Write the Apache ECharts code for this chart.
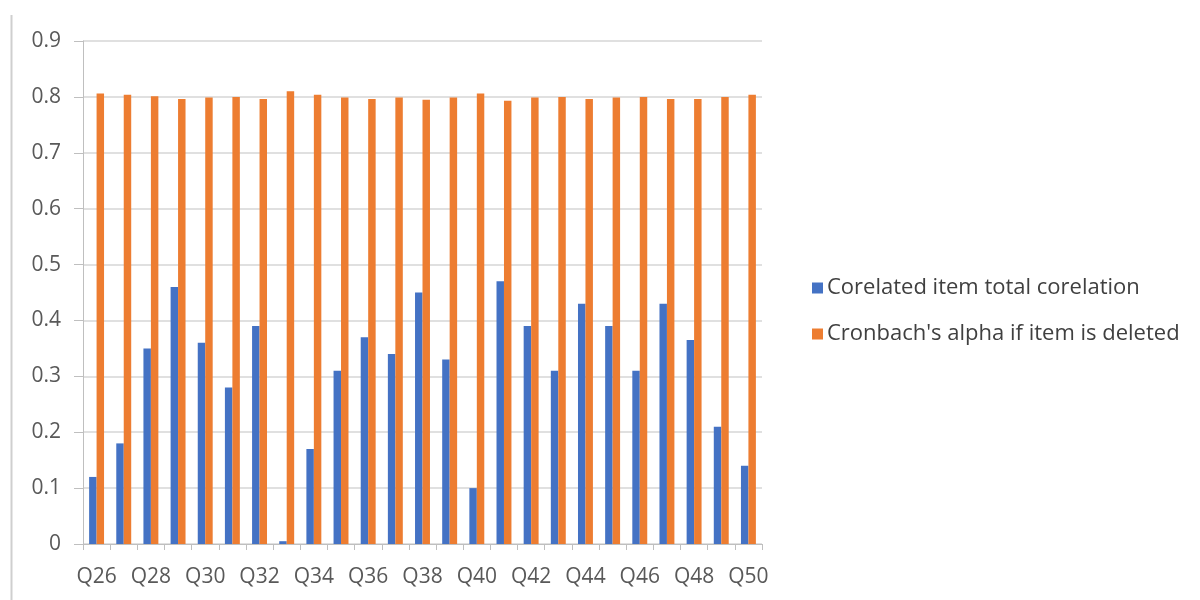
<!DOCTYPE html>
<html>
<head>
<meta charset="utf-8">
<script src="https://cdn.jsdelivr.net/npm/echarts@6/dist/echarts.min.js"></script>
<style>
  html, body { margin: 0; padding: 0; background: #fff; }
  #chart { width: 1200px; height: 600px; }
</style>
</head>
<body>
<div id="chart"></div>
<script>
// Item statistics for questions Q26–Q50
const categories = ['Q26','Q27','Q28','Q29','Q30','Q31','Q32','Q33','Q34','Q35','Q36','Q37','Q38',
                    'Q39','Q40','Q41','Q42','Q43','Q44','Q45','Q46','Q47','Q48','Q49','Q50'];
const itemTotalCorrelation = [0.12, 0.18, 0.35, 0.46, 0.36, 0.28, 0.39, 0.005, 0.17, 0.31, 0.37, 0.34, 0.45,
                              0.33, 0.10, 0.47, 0.39, 0.31, 0.43, 0.39, 0.31, 0.43, 0.365, 0.21, 0.14];
const alphaIfDeleted = [0.806, 0.804, 0.801, 0.796, 0.799, 0.800, 0.796, 0.810, 0.804, 0.799, 0.796, 0.799, 0.795,
                        0.799, 0.806, 0.793, 0.799, 0.800, 0.796, 0.799, 0.800, 0.796, 0.796, 0.800, 0.804];
const seriesNames = ['Corelated item total corelation', "Cronbach's alpha if item is deleted"];

const textColor = '#595959';
const fontFamily = '"Open Sans", "Liberation Sans", sans-serif';

const chart = echarts.init(document.getElementById('chart'));
chart.setOption({
  animation: false,
  textStyle: { fontFamily: fontFamily },
  grid: { left: 83, right: 438, top: 41, bottom: 56, containLabel: false },
  legend: {
    orient: 'vertical',
    left: 807,
    top: 272,
    itemWidth: 11,
    itemHeight: 11,
    itemGap: 24,
    icon: 'rect',
    textStyle: { color: '#404040', fontSize: 22, fontFamily: fontFamily, padding: [0, 0, 0, -1] },
    data: seriesNames
  },
  xAxis: {
    type: 'category',
    data: categories,
    axisLine: { lineStyle: { color: '#bfbfbf', width: 1 } },
    axisTick: { show: true, length: 6, alignWithLabel: false, interval: 0, lineStyle: { color: '#bfbfbf' } },
    axisLabel: { interval: 1, color: textColor, fontSize: 21, margin: 23, fontFamily: fontFamily }
  },
  yAxis: {
    type: 'value',
    min: 0,
    max: 0.9,
    interval: 0.1,
    axisLine: { show: true, lineStyle: { color: '#bfbfbf', width: 1 } },
    axisTick: { show: true, length: 9, lineStyle: { color: '#bfbfbf' } },
    axisLabel: {
      color: textColor, fontSize: 21, margin: 22, fontFamily: fontFamily,
      formatter: v => (Math.round(v * 10) / 10).toString()
    },
    splitLine: { lineStyle: { color: '#d6d6d6', width: 1.5 } }
  },
  series: [
    {
      name: seriesNames[0],
      type: 'bar',
      data: itemTotalCorrelation,
      itemStyle: { color: '#4472C4' },
      barGap: '0%',
      barCategoryGap: '45%'
    },
    {
      name: seriesNames[1],
      type: 'bar',
      data: alphaIfDeleted,
      itemStyle: { color: '#ED7D31' },
      barGap: '0%',
      barCategoryGap: '45%'
    }
  ],
  graphic: [
    {
      type: 'line',
      shape: { x1: 11.5, y1: 15, x2: 11.5, y2: 600 },
      style: { stroke: '#cfcfcf', lineWidth: 2 }
    }
  ]
});
</script>
</body>
</html>
